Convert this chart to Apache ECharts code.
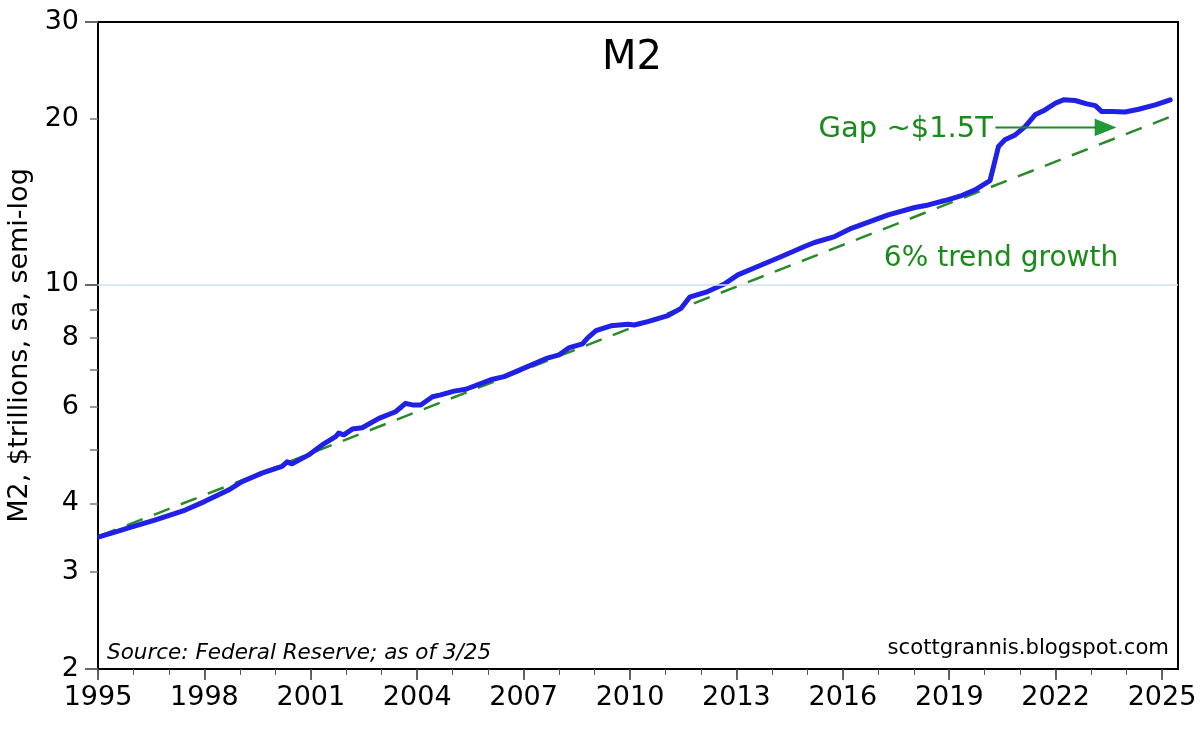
<!DOCTYPE html>
<html><head><meta charset="utf-8">
<script src="https://cdn.jsdelivr.net/npm/echarts@6/dist/echarts.min.js"></script>
<style>html,body{margin:0;padding:0;background:#fff}#c{width:1200px;height:731px}</style>
</head><body><div id="c"></div>
<script>
// M2 money stock, $ trillions
const years = [1995.05,1995.5,1995.86,1996.6,1997.46,1998.0,1998.68,1999.06,1999.62,2000.19,2000.33,2000.47,2000.94,2001.32,2001.7,2001.79,2001.93,2002.17,2002.45,2002.92,2003.39,2003.67,2003.86,2004.1,2004.43,2004.66,2005.04,2005.37,2006.07,2006.45,2007.11,2007.67,2008.0,2008.29,2008.66,2008.8,2009.04,2009.46,2009.94,2010.12,2010.5,2011.07,2011.44,2011.68,2012.19,2012.66,2013.04,2013.7,2014.27,2014.92,2015.2,2015.77,2016.24,2017.28,2018.03,2018.41,2018.88,2019.35,2019.73,2020.15,2020.39,2020.57,2020.86,2021.14,2021.42,2021.7,2021.99,2022.22,2022.55,2022.88,2023.12,2023.3,2023.59,2023.96,2024.34,2024.81,2025.23];
const m2 = [3.48,3.55,3.61,3.73,3.89,4.03,4.23,4.38,4.54,4.67,4.76,4.72,4.90,5.11,5.29,5.37,5.33,5.46,5.49,5.71,5.87,6.08,6.04,6.04,6.25,6.30,6.40,6.45,6.71,6.80,7.09,7.35,7.45,7.68,7.80,7.99,8.24,8.41,8.47,8.44,8.56,8.78,9.05,9.48,9.71,10.02,10.41,10.85,11.24,11.72,11.92,12.22,12.65,13.38,13.80,13.95,14.21,14.51,14.86,15.45,17.82,18.32,18.70,19.36,20.34,20.76,21.35,21.66,21.60,21.30,21.14,20.62,20.62,20.58,20.82,21.21,21.66];
// 6% trend line endpoints
const trendYears = [1995.05, 2025.25];
const trendValues = [3.49, 20.2];
// "Gap" arrow endpoints
const arrowYears = [2020.3, 2023.4];
const arrowValues = [19.3, 19.3];
// axis ticks
const yTickLabels = [2, 3, 4, 6, 8, 10, 20, 30];
const yMinorTicks = [3, 4, 5, 6, 7, 8, 9, 20];
const yMajorTicks = [2, 10, 30];
const xLabelYears = [1995, 1998, 2001, 2004, 2007, 2010, 2013, 2016, 2019, 2022, 2025];
const xMinorYears = [1995,1996,1997,1998,1999,2000,2001,2002,2003,2004,2005,2006,2007,2008,2009,2010,2011,2012,2013,2014,2015,2016,2017,2018,2019,2020,2021,2022,2023,2024,2025];

const L = v => Math.log10(v);
const FONT = 'DejaVu Sans';
const yMin = L(2), yMax = L(30);
const xMin = 1995, xMax = 2025.45;

const chart = echarts.init(document.getElementById('c'), null, {renderer: 'canvas'});
const option = {
  animation: false,
  backgroundColor: '#fff',
  grid: {left: 98, right: 22, top: 22, bottom: 62, show: true, borderColor: '#000', borderWidth: 2, outerBoundsMode: 'none'},
  xAxis: [
    {type: 'value', min: xMin, max: xMax, position: 'bottom',
     axisLine: {show: true, lineStyle: {color: '#000', width: 2}},
     axisTick: {show: true, customValues: xLabelYears, length: 11, lineStyle: {color: '#333', width: 1.5}},
     axisLabel: {show: true, customValues: xLabelYears, formatter: v => String(Math.round(v)), fontFamily: FONT, fontSize: 27, color: '#000', margin: 15},
     splitLine: {show: false}},
    {type: 'value', min: xMin, max: xMax, position: 'bottom',
     axisLine: {show: false},
     axisTick: {show: true, customValues: xMinorYears, length: 6, lineStyle: {color: '#555', width: 1}},
     axisLabel: {show: false}, splitLine: {show: false}}
  ],
  yAxis: [
    {type: 'value', min: yMin, max: yMax, position: 'left',
     name: 'M2, $trillions, sa, semi-log', nameLocation: 'middle', nameRotate: 90, nameGap: 64,
     nameTextStyle: {fontFamily: FONT, fontSize: 27, color: '#000'},
     axisLine: {show: true, lineStyle: {color: '#000', width: 2}},
     axisTick: {show: true, customValues: yMinorTicks.map(L), length: 8, lineStyle: {color: '#777', width: 1.5}},
     axisLabel: {show: true, customValues: yTickLabels.map(L), formatter: v => String(Math.round(Math.pow(10, v))), fontFamily: FONT, fontSize: 27, color: '#000', margin: 19},
     splitLine: {show: false}},
    {type: 'value', min: yMin, max: yMax, position: 'left',
     axisLine: {show: false},
     axisTick: {show: true, customValues: yMajorTicks.map(L), length: 13, lineStyle: {color: '#666', width: 2}},
     axisLabel: {show: false}, splitLine: {show: false}}
  ],
  series: [
    {type: 'line', name: 'trend', xAxisIndex: 0, yAxisIndex: 0, showSymbol: false, silent: true,
     data: trendYears.map((y, i) => [y, L(trendValues[i])]),
     lineStyle: {color: '#2a8a2a', width: 2.5, type: [17, 12]},
     markLine: {silent: true, symbol: 'none', label: {show: false},
       data: [
         {yAxis: L(10), lineStyle: {color: '#cfe1f1', width: 1.5, type: 'solid'}},
         {yAxis: L(30), lineStyle: {color: '#7d8796', width: 2.5, type: 'solid'}}
       ]}},
    {type: 'line', name: 'M2', xAxisIndex: 0, yAxisIndex: 0, showSymbol: false, silent: true,
     data: years.map((y, i) => [y, L(m2[i])]),
     lineStyle: {color: '#2020e6', width: 5, join: 'round', cap: 'round'}},
    {type: 'line', name: 'arrow', xAxisIndex: 0, yAxisIndex: 0, silent: true, showSymbol: true,
     data: [
       {value: [arrowYears[0], L(arrowValues[0])], symbol: 'none'},
       {value: [arrowYears[1], L(arrowValues[1])], symbol: 'triangle', symbolSize: [16, 20], symbolRotate: -90}
     ],
     lineStyle: {color: '#1f8a2a', width: 2},
     itemStyle: {color: '#1f9a38', borderColor: '#1f8a2a', borderWidth: 1}}
  ],
  graphic: [
    {type: 'text', x: 632, y: 59, style: {text: 'M2', fontFamily: FONT, fontSize: 40, fill: '#000', align: 'center', verticalAlign: 'middle'}},
    {type: 'text', x: 993, y: 129, style: {text: 'Gap ~$1.5T', fontFamily: FONT, fontSize: 29, fill: '#1a8a1a', align: 'right', verticalAlign: 'middle'}},
    {type: 'text', x: 1001, y: 259, style: {text: '6% trend growth', fontFamily: FONT, fontSize: 28, fill: '#1a8a1a', align: 'center', verticalAlign: 'middle'}},
    {type: 'text', x: 107, y: 653, style: {text: 'Source: Federal Reserve; as of 3/25', fontFamily: FONT, fontStyle: 'italic', fontSize: 21.5, fill: '#000', align: 'left', verticalAlign: 'middle'}},
    {type: 'text', x: 1169, y: 648, style: {text: 'scottgrannis.blogspot.com', fontFamily: FONT, fontSize: 21.2, fill: '#000', align: 'right', verticalAlign: 'middle'}}
  ]
};
chart.setOption(option);
</script></body></html>
